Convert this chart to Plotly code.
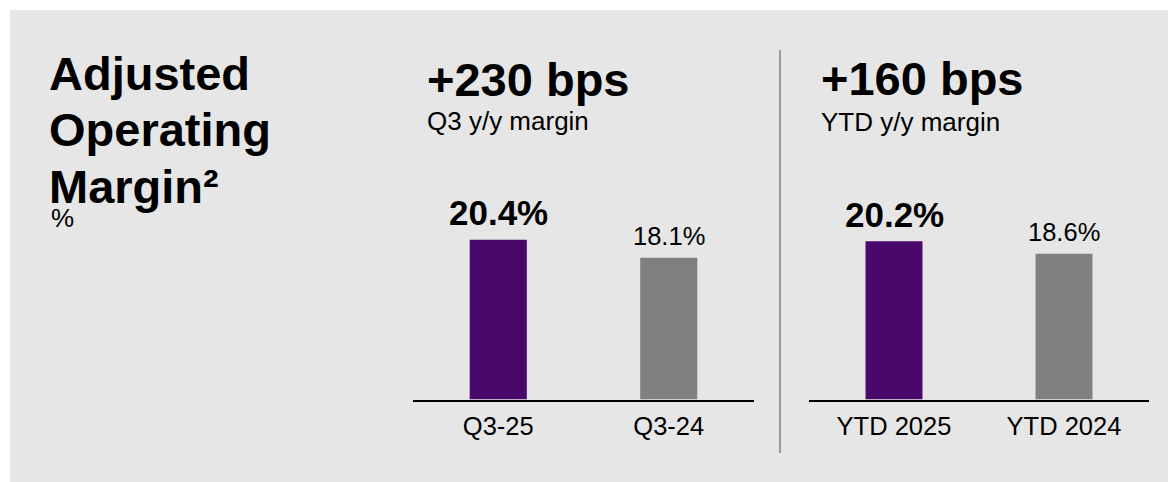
import plotly.graph_objects as go

W, H = 1168, 482

# ---- data ----
q_categories = ["Q3-25", "Q3-24"]
q_values = [20.4, 18.1]
ytd_categories = ["YTD 2025", "YTD 2024"]
ytd_values = [20.2, 18.6]
q_delta = "+230 bps"
q_sub = "Q3 y/y margin"
ytd_delta = "+160 bps"
ytd_sub = "YTD y/y margin"

FONT = "Arial, Liberation Sans, sans-serif"
PURPLE = "#4a086a"
GREY = "#808080"
PANEL = "#e6e6e6"


def px(x):
    return x / W


def py(y):
    return 1 - y / H


fig = go.Figure()
for cats, vals, xa, ya in [(q_categories, q_values, "x", "y"),
                           (ytd_categories, ytd_values, "x2", "y2")]:
    fig.add_trace(go.Bar(
        x=cats, y=vals, xaxis=xa, yaxis=ya,
        marker=dict(color=[PURPLE, GREY], line=dict(width=0)),
        cliponaxis=False, hoverinfo="skip",
    ))
    # value labels above bars (current period bold and larger)
    for i, (c, v) in enumerate(zip(cats, vals)):
        big = i == 0
        fig.add_annotation(
            xref=xa, yref=ya, x=c, y=v, yanchor="bottom", xanchor="center",
            yshift=5.5, showarrow=False,
            text=f"<b>{v:.1f}%</b>" if big else f"{v:.1f}%",
            font=dict(family=FONT, size=35 if big else 25.5, color="black"),
        )

ybot = py(399.5)
ytop = py(190)
yr = [0, (399.5 - 190) / 7.83]
axis_common = dict(showgrid=False, zeroline=False, showline=True, linecolor="black",
                   linewidth=2, ticks="", fixedrange=True,
                   tickfont=dict(family=FONT, size=25.5, color="black"),
                   ticklabelstandoff=3)
yaxis_common = dict(range=yr, domain=[ybot, ytop], visible=False, fixedrange=True)

fig.update_layout(
    width=W, height=H, margin=dict(l=0, r=0, t=0, b=0),
    paper_bgcolor="white", plot_bgcolor="rgba(0,0,0,0)",
    showlegend=False, bargap=0.665,
    font=dict(family=FONT, color="black"),
    xaxis=dict(domain=[px(413), px(754)], anchor="y", **axis_common),
    xaxis2=dict(domain=[px(809), px(1149)], anchor="y2", **axis_common),
    yaxis=dict(anchor="x", **yaxis_common),
    yaxis2=dict(anchor="x2", **yaxis_common),
)

# background panel and divider
fig.add_shape(type="rect", xref="paper", yref="paper", x0=px(10), x1=1, y0=0, y1=py(10),
              fillcolor=PANEL, line=dict(width=0), layer="below")
fig.add_shape(type="line", xref="paper", yref="paper", x0=px(780), x1=px(780),
              y0=py(50), y1=py(453), line=dict(color=GREY, width=1.5))


def text_at(txt, x, baseline, size, bold=False):
    fig.add_annotation(
        xref="paper", yref="paper", x=px(x), y=py(baseline - 0.3465 * size),
        xanchor="left", yanchor="middle", showarrow=False, align="left",
        text=f"<b>{txt}</b>" if bold else txt,
        font=dict(family=FONT, size=size, color="black"),
    )


text_at("Adjusted", 47, 89.5, 47, True)
text_at("Operating", 47, 146, 47, True)
text_at("Margin²", 47, 202.5, 47, True)
text_at("%", 49, 227.5, 26)

text_at(q_delta, 425, 96, 47, True)
text_at(q_sub, 425, 130, 26)
text_at(ytd_delta, 819, 95, 47, True)
text_at(ytd_sub, 819, 131.5, 26)

fig.write_html("out.html", config={"displayModeBar": False},
               post_script="document.body.style.margin='0';")
